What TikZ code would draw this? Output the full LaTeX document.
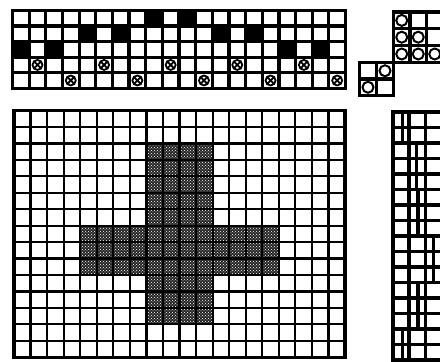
\documentclass[tikz,border=0pt]{standalone}
\usetikzlibrary{patterns}
\begin{document}
\begin{tikzpicture}[x=1pt,y=-1pt,
  thickgrid/.style={line width=3.2pt,line cap=rect},
  thingrid/.style={line width=2.2pt,line cap=rect},
  outline/.style={line width=3.2pt},
  ringmark/.style={line width=2pt}]
\useasboundingbox (0,0) rectangle (440,362);

\begin{scope}[shift={(12.5,10.5)},x=16.65pt,y=-15.55pt]
\foreach \c/\r in {8/0,10/0,4/1,6/1,12/1,14/1,0/2,2/2,16/2,18/2}
  \fill (\c,\r) rectangle ++(1,1);
\foreach \c/\r in {1/3,5/3,9/3,13/3,17/3,3/4,7/4,11/4,15/4,19/4}
  \draw[line width=1.8pt] (\c+0.5,\r+0.5) circle[radius=5pt]
    +(-3.6pt,-3.6pt) -- +(3.6pt,3.6pt) +(-3.6pt,3.6pt) -- +(3.6pt,-3.6pt);
\foreach \c in {0,...,20} \draw[thickgrid] (\c,0) -- (\c,5);
\foreach \r in {0,...,5} \draw[thickgrid] (0,\r) -- (20,\r);
\end{scope}

\begin{scope}[shift={(393.5,12)},x=16.5pt,y=-16.8pt]
\foreach \c/\r in {0/0,0/1,1/1,0/2,1/2,2/2}
  \draw[ringmark] (\c+0.5,\r+0.5) circle[radius=5.5pt];
\foreach \c in {0,...,3} \draw[thickgrid] (\c,0) -- (\c,3);
\foreach \r in {0,...,3} \draw[thickgrid] (0,\r) -- (3,\r);
\end{scope}

\begin{scope}[shift={(359.5,62.5)},x=17pt,y=-16.5pt]
\foreach \c/\r in {1/0,0/1}
  \draw[ringmark] (\c+0.5,\r+0.5) circle[radius=5.5pt];
\foreach \c in {0,...,2} \draw[thickgrid] (\c,0) -- (\c,2);
\foreach \r in {0,...,2} \draw[thickgrid] (0,\r) -- (2,\r);
\end{scope}

\begin{scope}[shift={(14,110.5)},x=16.55pt,y=-16.45pt]
\fill[black!85] (8,2) rectangle (12,13) (4,7) rectangle (16,10);
\fill[pattern=crosshatch dots,pattern color=white] (8,2) rectangle (12,13) (4,7) rectangle (16,10);
\foreach \c in {1,...,19} \draw[thingrid] (\c,0) -- (\c,15);
\foreach \r in {1,...,14} \draw[thingrid] (0,\r) -- (20,\r);
\draw[outline] (0,0) rectangle (20,15);
\end{scope}

\begin{scope}[shift={(392.5,112)},x=16.5pt,y=-15.5pt]
\foreach \r/\e in {0/0.6,1/0.6,2/1.45,3/1.45,4/1.45,5/1.55,6/1.55,7/1.55,8/2.5,9/2.5,10/2.5,11/1.55,12/1.55,13/1.55,14/0.6,15/0.6}
  \draw[thickgrid] (\e,\r) -- (\e,\r+1);
\foreach \c in {1,2,3} \draw[thickgrid] (\c,0) -- (\c,16);
\foreach \r in {0,...,16} \draw[thickgrid] (0,\r) -- (3,\r);
\draw[line width=4pt] (0,0) -- (0,16);
\end{scope}
\end{tikzpicture}
\end{document}
